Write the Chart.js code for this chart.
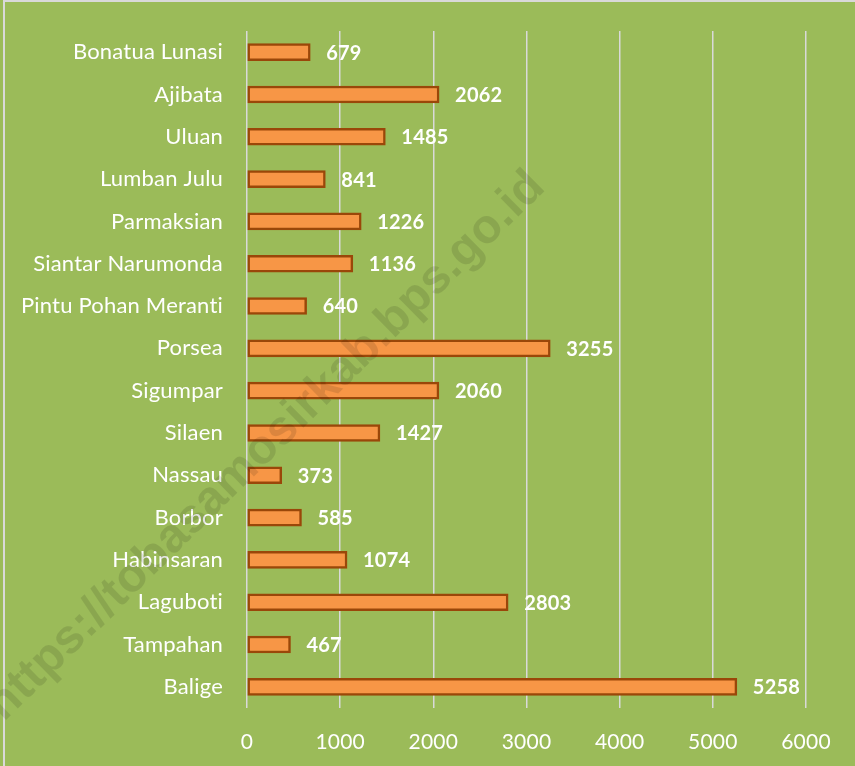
<!DOCTYPE html>
<html>
<head>
<meta charset="utf-8">
<script src="https://cdn.jsdelivr.net/npm/chart.js@4/dist/chart.umd.min.js"></script>
<style>
  html, body { margin: 0; padding: 0; background: #fff; }
  canvas { display: block; }
</style>
</head>
<body>
<canvas id="kecChart" width="855" height="766"></canvas>
<script>
// values
const kecamatan = ['Bonatua Lunasi', 'Ajibata', 'Uluan', 'Lumban Julu', 'Parmaksian', 'Siantar Narumonda',
    'Pintu Pohan Meranti', 'Porsea', 'Sigumpar', 'Silaen', 'Nassau', 'Borbor', 'Habinsaran', 'Laguboti',
    'Tampahan', 'Balige'];
const jumlah = [679, 2062, 1485, 841, 1226, 1136, 640, 3255, 2060, 1427, 373, 585, 1074, 2803, 467, 5258];
const xTicks = [0, 1000, 2000, 3000, 4000, 5000, 6000];
const watermark = 'https://tobasamosirkab.bps.go.id';

const BG = '#9BBB59';
const FONT = "Lato, 'Open Sans', sans-serif";

/* background + frame */
const bgPlugin = {
    id: 'bg',
    beforeDraw(chart) {
        const { ctx, width, height } = chart;
        ctx.save();
        ctx.fillStyle = BG;
        ctx.fillRect(0, 0, width, height);
        ctx.strokeStyle = '#D9D9D9';
        ctx.lineWidth = 2;
        ctx.beginPath();
        ctx.moveTo(4, height);
        ctx.lineTo(4, 1);
        ctx.lineTo(width, 1);
        ctx.stroke();
        ctx.restore();
        // tiny spacing keeps "ti" from turning into a ligature
        ctx.letterSpacing = '0.2px';
    }
};

/* value labels at the bar ends */
const valueLabels = {
    id: 'valueLabels',
    afterDatasetsDraw(chart) {
        const { ctx } = chart;
        const meta = chart.getDatasetMeta(0);
        ctx.save();
        ctx.fillStyle = '#fff';
        ctx.font = 'bold 20px ' + FONT;
        ctx.textAlign = 'left';
        ctx.textBaseline = 'middle';
        meta.data.forEach((bar, i) => {
            ctx.fillText(String(jumlah[i]), bar.x + 16, bar.y + 1);
        });
        ctx.restore();
    }
};

/* diagonal watermark */
const wmPlugin = {
    id: 'wm',
    afterDraw(chart) {
        const { ctx } = chart;
        ctx.save();
        ctx.translate(266, 446);
        ctx.rotate(-44.5 * Math.PI / 180);
        ctx.font = "bold 48px 'Liberation Sans', Arial, sans-serif";
        ctx.fillStyle = 'rgba(0,0,0,0.11)';
        ctx.textAlign = 'center';
        ctx.textBaseline = 'middle';
        ctx.fillText(watermark, 0, 0);
        ctx.restore();
    }
};

new Chart(document.getElementById('kecChart'), {
    type: 'bar',
    data: {
        labels: kecamatan,
        datasets: [{
            data: jumlah,
            backgroundColor: '#F79646',
            borderColor: '#9A4709',
            borderWidth: 2.5,
            borderSkipped: false,
            barThickness: 17
        }]
    },
    options: {
        indexAxis: 'y',
        responsive: false,
        animation: false,
        layout: { padding: { top: 31, right: 49, bottom: 0, left: 0 } },
        plugins: { legend: { display: false }, tooltip: { enabled: false } },
        scales: {
            x: {
                min: 0,
                max: 6000,
                afterBuildTicks: (s) => { s.ticks = xTicks.map(v => ({ value: v })); },
                afterFit: (s) => { s.height = 58; },
                grid: { color: '#D9D9D9', lineWidth: 1.5, drawTicks: false },
                border: { display: false },
                ticks: { color: '#fff', padding: 22, font: { family: FONT, size: 21 }, callback: (v) => String(v) }
            },
            y: {
                afterFit: (s) => { s.width = 247; s.paddingTop = 0; s.paddingBottom = 0; },
                grid: { display: false, drawTicks: false },
                border: { display: false },
                ticks: { color: '#fff', padding: 24, font: { family: FONT, size: 22 } }
            }
        }
    },
    plugins: [bgPlugin, valueLabels, wmPlugin]
});
</script>
</body>
</html>
